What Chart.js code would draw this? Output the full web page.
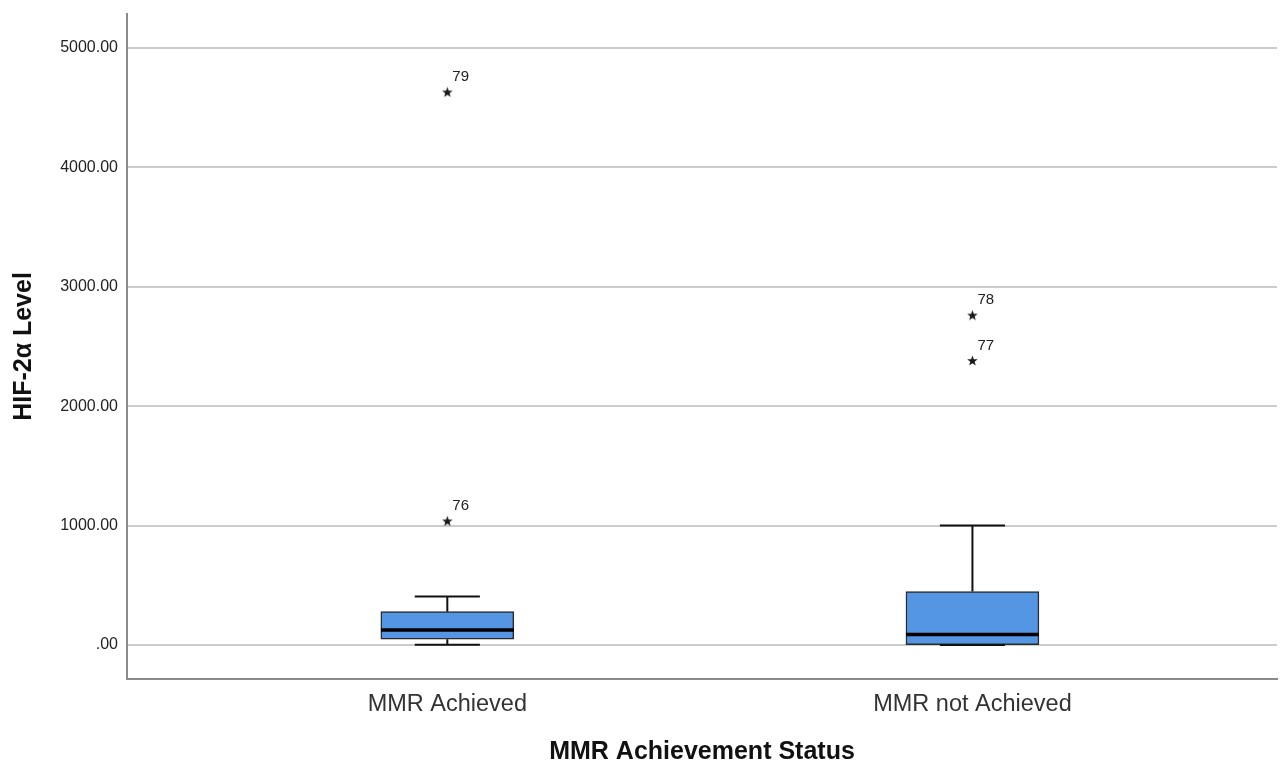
<!DOCTYPE html>
<html>
<head>
<meta charset="utf-8">
<script src="https://cdn.jsdelivr.net/npm/chart.js@4.4.0/dist/chart.umd.min.js"></script>
<style>
    html, body { margin: 0; padding: 0; background: #fff; }
    #wrap { width: 1282px; height: 764px; }
</style>
</head>
<body>
<div id="wrap"><canvas id="boxChart"></canvas></div>
<script>
// groups and their positions on the x axis
const groups = ['MMR Achieved', 'MMR not Achieved'];
const groupPos = [1, 2];

// box plot summary per group
const whiskerLow = [2, 0];
const q1 = [48, 3];
const median = [126, 88];
const q3 = [279, 448];
const whiskerHigh = [405, 1001];

// extreme values (stars) with case numbers
const outlierGroup = [1, 1, 2, 2];
const outlierValue = [4632, 1039, 2763, 2383];
const outlierCase = ['79', '76', '78', '77'];

const yTicks = [0, 1000, 2000, 3000, 4000, 5000];

const FONT = "'Liberation Sans', Arial, sans-serif";
const BOX_HALF = 0.1264;
const CAP_HALF = 0.062;

document.addEventListener('DOMContentLoaded', function () {
    initChart();
});

function makeStar(size, color) {
    const c = document.createElement('canvas');
    c.width = size;
    c.height = size;
    const g = c.getContext('2d');
    const cx = size / 2, cy = size / 2 + 0.5, ro = size / 2, ri = ro * 0.42;
    g.beginPath();
    for (let k = 0; k < 10; k++) {
        const r = k % 2 ? ri : ro;
        const a = -Math.PI / 2 + k * Math.PI / 5;
        g.lineTo(cx + r * Math.cos(a), cy + r * Math.sin(a));
    }
    g.closePath();
    g.fillStyle = color;
    g.fill();
    return c;
}

function segments(list) {
    // join segments with gaps so one line dataset can draw them all
    const pts = [];
    list.forEach(s => {
        pts.push({x: s[0], y: s[1]}, {x: s[2], y: s[3]}, {x: s[2], y: null});
    });
    return pts;
}

function initChart() {
    const whiskerSegs = [];
    const medianSegs = [];
    groupPos.forEach((p, i) => {
        whiskerSegs.push([p, q3[i], p, whiskerHigh[i]]);
        whiskerSegs.push([p - CAP_HALF, whiskerHigh[i], p + CAP_HALF, whiskerHigh[i]]);
        whiskerSegs.push([p, q1[i], p, whiskerLow[i]]);
        whiskerSegs.push([p - CAP_HALF, whiskerLow[i], p + CAP_HALF, whiskerLow[i]]);
        medianSegs.push([p - BOX_HALF, median[i], p + BOX_HALF, median[i]]);
    });

    const star = makeStar(11, '#1a1a1a');

    const caseLabels = {
        id: 'caseLabels',
        afterDatasetsDraw(chart) {
            const ctx = chart.ctx;
            const xs = chart.scales.x, ys = chart.scales.y;
            ctx.save();
            ctx.font = '15px ' + FONT;
            ctx.fillStyle = '#222';
            ctx.textAlign = 'left';
            ctx.textBaseline = 'middle';
            outlierCase.forEach((c, i) => {
                const px = xs.getPixelForValue(outlierGroup[i]);
                const py = ys.getPixelForValue(outlierValue[i]);
                ctx.fillText(c, px + 5, py - 15);
            });
            ctx.restore();
        }
    };

    const ctx = document.getElementById('boxChart').getContext('2d');
    new Chart(ctx, {
        type: 'bar',
        data: {
            datasets: [
                {
                    type: 'bar',
                    data: groupPos.map((p, i) => ({x: p, y: [q1[i], q3[i]]})),
                    backgroundColor: '#5495e4',
                    borderColor: '#2a2a2a',
                    borderWidth: 1.5,
                    borderSkipped: false,
                    barThickness: 133,
                    order: 3
                },
                {
                    type: 'line',
                    data: segments(whiskerSegs),
                    borderColor: '#111',
                    borderWidth: 2,
                    pointRadius: 0,
                    spanGaps: false,
                    fill: false,
                    order: 2
                },
                {
                    type: 'line',
                    data: segments(medianSegs),
                    borderColor: '#000',
                    borderWidth: 3.5,
                    pointRadius: 0,
                    spanGaps: false,
                    fill: false,
                    order: 1
                },
                {
                    type: 'scatter',
                    data: outlierValue.map((v, i) => ({x: outlierGroup[i], y: v})),
                    pointStyle: star,
                    order: 0
                }
            ]
        },
        options: {
            responsive: true,
            maintainAspectRatio: false,
            animation: false,
            layout: {
                padding: {top: 14, right: -1, left: 0, bottom: 0}
            },
            plugins: {
                legend: {display: false},
                tooltip: {enabled: false}
            },
            scales: {
                x: {
                    type: 'linear',
                    offset: false,
                    min: 0.39,
                    max: 2.58,
                    afterBuildTicks: function (scale) {
                        scale.ticks = groupPos.map(v => ({value: v}));
                    },
                    afterFit: function (scale) {
                        scale.height = 85;
                        scale.paddingLeft = 0;
                        scale.paddingRight = 0;
                    },
                    ticks: {
                        autoSkip: false,
                        maxRotation: 0,
                        padding: 11,
                        color: '#333',
                        font: {family: FONT, size: 23.5},
                        callback: function (value) {
                            return groups[groupPos.indexOf(value)];
                        }
                    },
                    grid: {display: false, drawTicks: false},
                    border: {display: true, color: '#8a8a8a', width: 2},
                    title: {
                        display: true,
                        text: 'MMR Achievement Status',
                        color: '#111',
                        font: {family: FONT, size: 25, weight: 'bold'},
                        padding: {top: 0, bottom: -3}
                    }
                },
                y: {
                    min: -285,
                    max: 5285,
                    afterBuildTicks: function (scale) {
                        scale.ticks = yTicks.map(v => ({value: v}));
                    },
                    afterFit: function (scale) {
                        scale.width = 127;
                        scale.paddingTop = 0;
                        scale.paddingBottom = 0;
                    },
                    ticks: {
                        padding: 9,
                        color: '#222',
                        font: {family: FONT, size: 16},
                        callback: function (value) {
                            return value === 0 ? '.00' : value.toFixed(2);
                        }
                    },
                    grid: {color: '#cccccc', lineWidth: 2, drawTicks: false},
                    border: {display: true, color: '#8a8a8a', width: 2},
                    title: {
                        display: true,
                        text: 'HIF-2α Level',
                        color: '#111',
                        font: {family: FONT, size: 25, weight: 'bold'},
                        padding: {top: 9, bottom: 0}
                    }
                }
            }
        },
        plugins: [caseLabels]
    });
}
</script>
</body>
</html>
